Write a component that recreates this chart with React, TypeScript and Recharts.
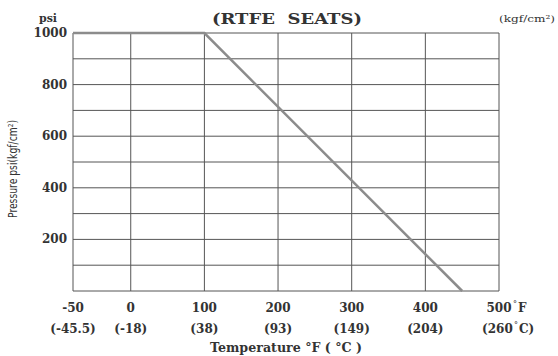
import { CartesianGrid, Line, LineChart, XAxis, YAxis } from "recharts"

// temperature (°F) / pressure (psi) points of the rating line
const tempF = [-50, 100, 450]
const pressurePsi = [1000, 1000, 0]

const xTicksF = [-50, 0, 100, 200, 300, 400, 500]
const xLabelsF = ["-50", "0", "100", "200", "300", "400", "500"]
const xLabelsC = ["(-45.5)", "(-18)", "(38)", "(93)", "(149)", "(204)", "(260"]

const yTicksPsi = [0, 100, 200, 300, 400, 500, 600, 700, 800, 900, 1000]
const yLabelsPsi = [200, 400, 600, 800, 1000]
const yLabelsKgf = ["(13.3)", "(26.6)", "(40.0)", "(53.3)", "(66.6)"]

const W = 558
const H = 356
const FONT = "'DejaVu Serif', 'Liberation Serif', serif"
const INK = "#333"

// the -50 column is drawn narrower than the 100° columns
const toAxis = (f: number) => (f < 0 ? f * 1.568 : f)

const data = tempF.map((t, i) => ({ x: toAxis(t), psi: pressurePsi[i] }))

function XTick(props: { x?: number; y?: number; index?: number }) {
  const { x = 0, y = 0, index = 0 } = props
  const last = index === xTicksF.length - 1
  return (
    <g fill={INK} fontFamily={FONT} fontWeight={700} fontSize={12}>
      <text x={x} y={y + 21} textAnchor="middle">
        {xLabelsF[index]}
      </text>
      {last && (
        <>
          <text x={x + 14} y={y + 15} fontSize={8} fontWeight={400}>°</text>
          <text x={x + 19} y={y + 21}>F</text>
        </>
      )}
      {last ? (
        <>
          <text x={x - 17} y={y + 42}>{xLabelsC[index]}</text>
          <text x={x + 15} y={y + 36} fontSize={8} fontWeight={400}>°</text>
          <text x={x + 20} y={y + 42}>C)</text>
        </>
      ) : (
        <text x={x} y={y + 42} textAnchor="middle">
          {xLabelsC[index]}
        </text>
      )}
    </g>
  )
}

function LeftTick(props: { x?: number; y?: number; payload?: { value: number } }) {
  const { x = 0, y = 0, payload } = props
  if (!payload || !yLabelsPsi.includes(payload.value)) return null
  return (
    <text x={x} y={y + 4} textAnchor="end" fill={INK} fontFamily={FONT} fontWeight={700} fontSize={12}>
      {payload.value}
    </text>
  )
}

function RightTick(props: { x?: number; y?: number; payload?: { value: number } }) {
  const { x = 0, y = 0, payload } = props
  if (!payload) return null
  const i = yLabelsPsi.indexOf(payload.value)
  if (i < 0) return null
  return (
    <text x={x} y={y + 4} textAnchor="start" fill={INK} fontFamily={FONT} fontWeight={700} fontSize={12}>
      {yLabelsKgf[i]}
    </text>
  )
}

export default function App() {
  return (
    <div style={{ position: "absolute", left: 0, top: 0, width: W, height: H, background: "#fff" }}>
      <LineChart width={W} height={H} data={data} margin={{ top: 33, right: 0, bottom: 0, left: 0 }}>
        <CartesianGrid yAxisId="left" stroke="#555" strokeWidth={1} />
        <XAxis
          dataKey="x"
          type="number"
          domain={[toAxis(-50), 500]}
          ticks={xTicksF.map(toAxis)}
          interval={0}
          height={65}
          tickSize={0}
          tickMargin={0}
          axisLine={false}
          tick={<XTick />}
        />
        <YAxis
          yAxisId="left"
          domain={[0, 1000]}
          ticks={yTicksPsi}
          interval={0}
          width={73}
          tickSize={0}
          tickMargin={6}
          axisLine={false}
          tick={<LeftTick />}
        />
        <YAxis
          yAxisId="right"
          orientation="right"
          domain={[0, 1000]}
          ticks={yTicksPsi}
          interval={0}
          width={59}
          tickSize={0}
          tickMargin={6}
          axisLine={false}
          tick={<RightTick />}
        />
        <Line
          yAxisId="left"
          dataKey="psi"
          type="linear"
          stroke="#8c8c8c"
          strokeWidth={2.5}
          dot={false}
          isAnimationActive={false}
        />
      </LineChart>
      <svg width={W} height={H} style={{ position: "absolute", left: 0, top: 0, pointerEvents: "none" }}>
        <text x={287} y={24} textAnchor="middle" fill={INK} fontFamily={FONT} fontWeight={700} fontSize={15} textLength={150} lengthAdjust="spacingAndGlyphs">
          (RTFE{"\u00a0\u00a0"}SEATS)
        </text>
        <text x={48} y={22} textAnchor="middle" fill={INK} fontFamily={FONT} fontWeight={700} fontSize={11}>
          psi
        </text>
        <text x={527} y={22} textAnchor="middle" fill={INK} fontFamily={FONT} fontSize={10} textLength={56} lengthAdjust="spacingAndGlyphs">
          (kgf/cm²)
        </text>
        <text
          x={0}
          y={0}
          transform="translate(17,169) rotate(-90)"
          textAnchor="middle"
          fill={INK}
          fontFamily="'Liberation Sans Narrow', 'DejaVu Sans Condensed', sans-serif"
          fontSize={12}
          textLength={98}
          lengthAdjust="spacingAndGlyphs"
        >
          Pressure psi(kgf/cm²)
        </text>
        <text x={286} y={352} textAnchor="middle" fill={INK} fontFamily={FONT} fontWeight={700} fontSize={12} textLength={152} lengthAdjust="spacingAndGlyphs">
          Temperature °F ( °C )
        </text>
      </svg>
    </div>
  )
}
